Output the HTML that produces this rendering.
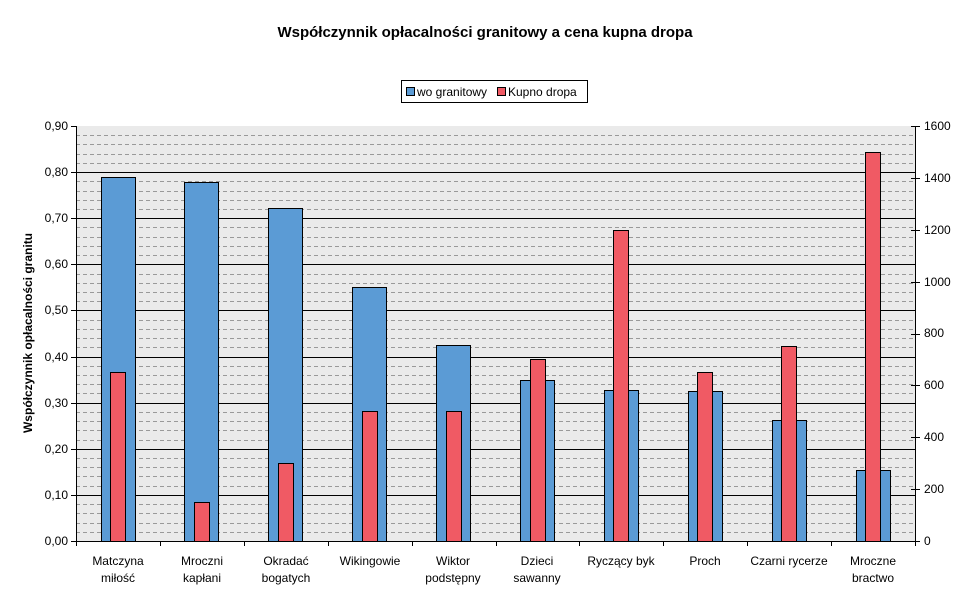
<!DOCTYPE html>
<html><head><meta charset="utf-8"><style>
html,body{margin:0;padding:0;background:#fff;}
svg{display:block;font-family:"Liberation Sans",Arial,sans-serif;}
</style></head><body>
<svg id="c" width="970" height="604" viewBox="0 0 970 604" xmlns="http://www.w3.org/2000/svg">
<rect x="0" y="0" width="970" height="604" fill="#fff"/>
<text x="485" y="37" text-anchor="middle" font-size="15" font-weight="bold">Współczynnik opłacalności granitowy a cena kupna dropa</text>
<rect x="401.5" y="80.5" width="186" height="22" fill="#fff" stroke="#000"/>
<rect x="406.5" y="87.5" width="8" height="8" fill="#5B9BD5" stroke="#000"/>
<text x="417" y="96" font-size="12">wo granitowy</text>
<rect x="497.5" y="87.5" width="8" height="8" fill="#F05A64" stroke="#000"/>
<text x="508" y="96" font-size="12">Kupno dropa</text>
<rect x="76" y="126" width="839" height="415" fill="#EAEAEA"/>
<g id="grid"></g>
<g id="bars"></g>
<line x1="76.5" y1="126" x2="76.5" y2="541" stroke="#000"/>
<line x1="915.5" y1="126" x2="915.5" y2="541" stroke="#000"/>
<line x1="76" y1="541.5" x2="915" y2="541.5" stroke="#000"/>
<g id="ticks" stroke="#000"></g>
<g font-size="12" text-anchor="end">
<text x="68" y="545">0,00</text><text x="68" y="499">0,10</text><text x="68" y="453">0,20</text><text x="68" y="407">0,30</text><text x="68" y="361">0,40</text><text x="68" y="314">0,50</text><text x="68" y="268">0,60</text><text x="68" y="222">0,70</text><text x="68" y="176">0,80</text><text x="68" y="130">0,90</text>
</g>
<g font-size="12" text-anchor="start">
<text x="924" y="545">0</text><text x="924" y="493">200</text><text x="924" y="441">400</text><text x="924" y="389">600</text><text x="924" y="337">800</text><text x="924" y="286">1000</text><text x="924" y="234">1200</text><text x="924" y="182">1400</text><text x="924" y="130">1600</text>
</g>
<text transform="translate(32,333) rotate(-90)" text-anchor="middle" font-size="12" font-weight="bold">Współczynnik opłacalności granitu</text>
<g font-size="12" text-anchor="middle">
<text x="118" y="565">Matczyna</text><text x="118" y="582">miłość</text>
<text x="202" y="565">Mroczni</text><text x="202" y="582">kapłani</text>
<text x="286" y="565">Okradać</text><text x="286" y="582">bogatych</text>
<text x="370" y="565">Wikingowie</text>
<text x="453" y="565">Wiktor</text><text x="453" y="582">podstępny</text>
<text x="537" y="565">Dzieci</text><text x="537" y="582">sawanny</text>
<text x="621" y="565">Ryczący byk</text>
<text x="705" y="565">Proch</text>
<text x="789" y="565">Czarni rycerze</text>
<text x="873" y="565">Mroczne</text><text x="873" y="582">bractwo</text>
</g>
</svg>
<script>
var NS="http://www.w3.org/2000/svg";
function el(p,t,a){var e=document.createElementNS(NS,t);for(var k in a)e.setAttribute(k,a[k]);p.appendChild(e);return e;}
var g=document.getElementById('grid'),b=document.getElementById('bars'),t=document.getElementById('ticks');
for(var i=1;i<45;i++){var y=Math.round(541-i*415/45)+0.5;
 if(i%5==0) el(g,'line',{x1:76,x2:915,y1:y,y2:y,stroke:'#000'});
 else el(g,'line',{x1:76,x2:915,y1:y,y2:y,stroke:'#999','stroke-dasharray':'4,3'});}
for(var i=0;i<=9;i++){var y=Math.round(541-i*415/9)+0.5;el(t,'line',{x1:71,x2:76,y1:y,y2:y});}
for(var i=0;i<=8;i++){var y=Math.round(541-i*415/8)+0.5;el(t,'line',{x1:911,x2:920,y1:y,y2:y});}
for(var i=0;i<=10;i++){var x=Math.round(76+i*83.9)+0.5;el(t,'line',{x1:x,x2:x,y1:541,y2:546});}
var bl=[0.79,0.778,0.722,0.55,0.425,0.35,0.328,0.326,0.263,0.153];
var rd=[650,150,300,500,500,700,1200,650,750,1500];
for(var i=0;i<10;i++){var c=76+42+i*83.9;
 var yb=Math.round(541-bl[i]/0.9*415);
 el(b,'rect',{x:Math.round(c-17.5)+0.5,y:yb+0.5,width:34,height:541-yb,fill:'#5B9BD5',stroke:'#000'});
 var yr=Math.round(541-rd[i]/1600*415);
 el(b,'rect',{x:Math.round(c-8)+0.5,y:yr+0.5,width:15,height:541-yr,fill:'#F05A64',stroke:'#000'});}
</script>
</body></html>
